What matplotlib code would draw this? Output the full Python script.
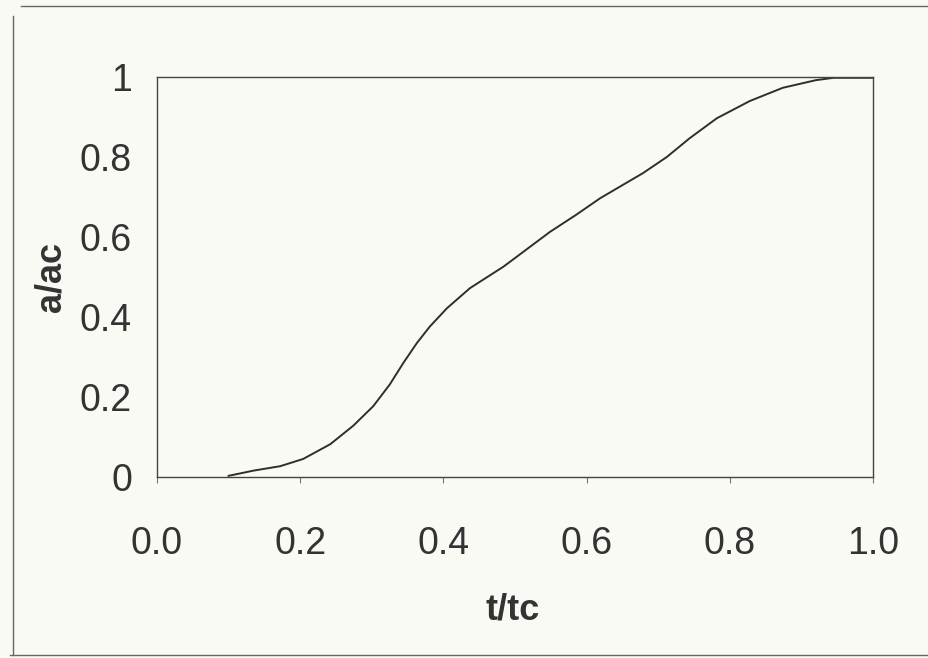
import matplotlib
matplotlib.use("Agg")
import matplotlib.pyplot as plt
from matplotlib.lines import Line2D

# Values
t_tc = [0.100, 0.135, 0.172, 0.204, 0.242, 0.274, 0.302, 0.325, 0.344, 0.363,
        0.381, 0.405, 0.437, 0.484, 0.549, 0.585, 0.619, 0.679, 0.712, 0.744,
        0.782, 0.828, 0.874, 0.920, 0.945, 1.000]
a_ac = [0.003, 0.016, 0.027, 0.045, 0.082, 0.128, 0.177, 0.231, 0.285, 0.335,
        0.376, 0.422, 0.472, 0.526, 0.613, 0.655, 0.697, 0.760, 0.800, 0.847,
        0.897, 0.940, 0.973, 0.992, 0.998, 0.998]

x_ticks = [0.0, 0.2, 0.4, 0.6, 0.8, 1.0]
x_labels = ["0.0", "0.2", "0.4", "0.6", "0.8", "1.0"]
y_ticks = [0, 0.2, 0.4, 0.6, 0.8, 1]
y_labels = ["0", "0.2", "0.4", "0.6", "0.8", "1"]

plt.rcParams['font.family'] = ['Liberation Sans', 'DejaVu Sans']

bg = "#fafaf4"
fig = plt.figure(figsize=(9.29, 6.58), dpi=100, facecolor=bg)
ax = fig.add_axes([157 / 929, 1 - 477 / 658, 716 / 929, 400 / 658])
ax.set_facecolor(bg)

ax.plot(t_tc, a_ac, color="#2e2e2e", linewidth=1.4, solid_joinstyle="round")

ax.set_xlim(0, 1)
ax.set_ylim(0, 1)
ax.set_xticks(x_ticks)
ax.set_xticklabels(x_labels)
ax.set_yticks(y_ticks)
ax.set_yticklabels(y_labels)
ax.tick_params(axis="x", labelsize=27, pad=31, length=4, color="#777777", labelcolor="#333333")
ax.tick_params(axis="y", labelsize=27, pad=18, length=0, labelcolor="#333333")

for s in ax.spines.values():
    s.set_color("#444444")
    s.set_linewidth(1.0)

ax.set_xlabel("t/tc", fontsize=26, fontweight="bold", color="#333333")
ax.xaxis.set_label_coords(0.496, -0.29)
ax.set_ylabel("a/ac", fontsize=26, fontweight="bold", color="#333333")
ax.yaxis.set_label_coords(-0.124, 0.5)

# outer chart-area border (top, left, bottom)
fig.add_artist(Line2D([21 / 929, 1.0], [1 - 6 / 658, 1 - 6 / 658], color="#666666", lw=1.0))
fig.add_artist(Line2D([13 / 929, 13 / 929], [1 - 655 / 658, 1 - 16 / 658], color="#666666", lw=1.0))
fig.add_artist(Line2D([10 / 929, 1.0], [1 - 655 / 658, 1 - 655 / 658], color="#666666", lw=1.0))

fig.savefig("out.png", dpi=100, facecolor=bg)
